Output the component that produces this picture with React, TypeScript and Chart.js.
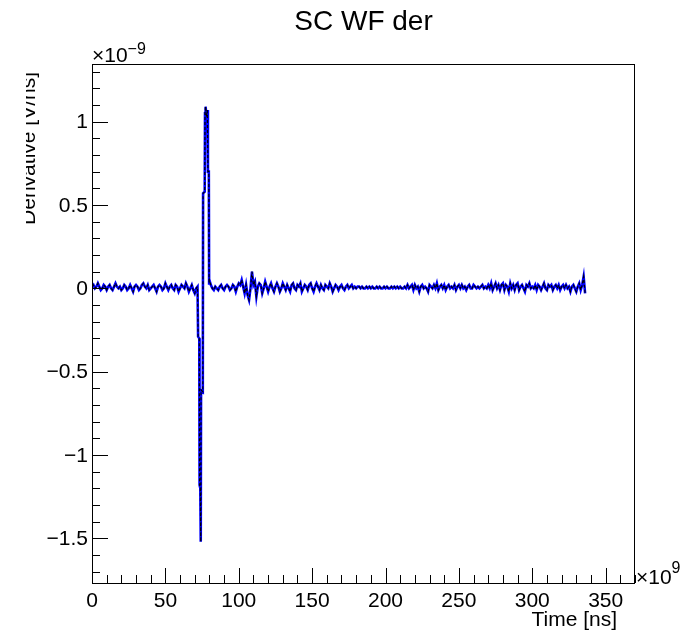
import React, { useEffect, useRef } from "react";
import { Chart, registerables } from "chart.js";

Chart.register(...registerables);

// ---------- text ----------
const TITLE = "SC WF der";
const X_TITLE = "Time [ns]";
const Y_TITLE = "Derivative [V/ns]";
const X_MULT_BASE = "×10";
const X_MULT_EXP = "9";
const Y_MULT_BASE = "×10";
const Y_MULT_EXP = "−9";

// ---------- axes ----------
const X_MIN = 0;
const X_MAX = 370;
const Y_MIN = -1.774;
const Y_MAX = 1.346;
const xMajorTicks = [0, 50, 100, 150, 200, 250, 300, 350];
const xTickLabels = ["0", "50", "100", "150", "200", "250", "300", "350"];
const yMajorTicks = [-1.5, -1, -0.5, 0, 0.5, 1];
const yTickLabels = ["−1.5", "−1", "−0.5", "0", "0.5", "1"];
const X_MINOR_STEP = 10;
const Y_MINOR_STEP = 0.1;

// ---------- data (derivative, units of 1e-9) ----------
// baseline noise before the pulse, 1 ns sampling from t = 0
const preStart = 0;
const preStep = 1;
const preValues = [
  0.01, 0.02, 0.0, 0.01, 0.03, 0.01, -0.01, 0.0, 0.02, 0.01,
  -0.01, 0.01, 0.02, 0.0, -0.01, 0.01, 0.03, 0.01, 0.0, 0.01,
  -0.01, 0.0, 0.02, 0.01, -0.01, 0.0, 0.02, 0.0, -0.02, 0.01,
  0.02, 0.01, -0.01, 0.0, 0.02, 0.03, 0.01, 0.0, 0.02, -0.01,
  0.0, 0.01, 0.02, 0.0, -0.02, 0.01, 0.02, 0.01, -0.01, 0.0,
  0.03, 0.01, -0.01, 0.01, 0.02, 0.0, -0.01, 0.02, 0.01, -0.02,
  0.0, 0.02, 0.01, 0.0, 0.03, 0.01, -0.02, 0.0, 0.02, -0.01,
  -0.03, 0.0,
];

// the pulse
const pulseTimes = [71.9, 72.3, 73.1, 73.3, 73.8, 74.1, 74.3, 75.5, 75.7, 76.8, 77.0, 77.4, 78.0, 78.6, 79.0, 79.6, 79.8];
const pulseValues = [0.01, -0.29, -0.3, -1.18, -1.2, -1.52, -0.61, -0.62, 0.57, 0.58, 1.05, 1.09, 1.03, 1.07, 0.7, 0.7, 0.03];

// baseline noise after the pulse, 1 ns sampling from t = 80
const postStart = 80;
const postStep = 1;
const postValues = [
  0.05, 0.02, 0.0, -0.01, 0.01, 0.0, -0.01, 0.01, 0.02, 0.0,
  -0.01, 0.01, 0.02, 0.01, -0.01, 0.0, 0.02, 0.01, -0.02, 0.01,
  0.03, 0.02, 0.05, 0.01, -0.03, 0.02, -0.04, -0.07, 0.0, 0.1,
  0.02, 0.04, -0.05, 0.01, 0.03, 0.02, -0.03, 0.0, 0.04, 0.01,
  -0.02, 0.01, 0.03, 0.0, -0.02, 0.01, 0.03, 0.01, -0.02, 0.0,
  0.03, 0.01, -0.01, 0.02, 0.0, -0.02, 0.02, 0.03, 0.0, -0.01,
  0.02, 0.01, 0.03, -0.02, 0.0, 0.02, 0.01, -0.01, 0.02, 0.03,
  0.0, -0.02, 0.01, 0.03, 0.01, -0.01, 0.02, 0.0, -0.01, 0.02,
  0.01, 0.0, 0.03, 0.01, -0.02, 0.0, 0.02, 0.01, -0.01, 0.01,
  0.02, 0.0, -0.01, 0.01, 0.02, 0.0, 0.01, 0.02, 0.0, 0.01,
  0.0, 0.01, 0.01, 0.0, 0.01, 0.0, 0.0, 0.01, 0.0, 0.01,
  0.0, 0.01, 0.0, 0.0, 0.01, 0.0, 0.01, 0.0, 0.0, 0.01,
  0.0, 0.01, 0.0, 0.0, 0.01, 0.0, 0.01, 0.0, 0.01, 0.0,
  0.01, 0.0, 0.0, 0.01, 0.0, 0.02, 0.0, 0.01, 0.02, -0.01,
  0.02, 0.0, 0.01, -0.02, 0.01, 0.02, 0.0, 0.01, 0.0, -0.02,
  0.02, 0.01, 0.0, 0.02, 0.0, 0.03, -0.01, 0.01, 0.02, 0.0,
  0.02, -0.01, 0.01, 0.02, 0.0, 0.01, 0.0, 0.02, -0.01, 0.01,
  0.02, 0.0, 0.02, 0.0, 0.01, -0.01, 0.01, 0.02, 0.0, 0.0,
  0.02, 0.01, 0.0, 0.01, 0.0, 0.01, 0.02, 0.0, 0.01, 0.0,
  0.02, 0.0, 0.03, -0.01, 0.01, 0.03, 0.0, 0.02, -0.01, 0.02,
  0.03, -0.01, 0.02, 0.01, -0.02, 0.03, 0.0, 0.02, -0.01, 0.02,
  0.03, -0.01, 0.01, 0.02, 0.0, -0.02, 0.02, 0.01, 0.03, 0.0,
  0.01, 0.0, 0.02, -0.01, 0.02, 0.01, -0.01, 0.01, 0.03, 0.0,
  -0.01, 0.02, 0.01, 0.02, -0.01, 0.01, 0.02, 0.0, 0.02, -0.01,
  0.01, 0.02, 0.0, 0.02, 0.0, 0.01, -0.02, 0.01, 0.02, 0.0,
  -0.02, 0.01, 0.03, -0.01, 0.02, 0.07, -0.03,
];

const FONT = '"Liberation Sans", Arial, Helvetica, sans-serif';

function buildPoints() {
  const pts: { x: number; y: number }[] = [];
  preValues.forEach((v, i) => pts.push({ x: preStart + i * preStep, y: v }));
  pulseValues.forEach((v, i) => pts.push({ x: pulseTimes[i], y: v }));
  postValues.forEach((v, i) => pts.push({ x: postStart + i * postStep, y: v }));
  return pts;
}

const rootAxesPlugin = {
  id: "rootAxes",
  afterDraw(chart: any) {
    const { ctx, chartArea: a } = chart;
    const xs = chart.scales.x;
    const ys = chart.scales.y;
    ctx.save();
    ctx.strokeStyle = "#000";
    ctx.fillStyle = "#000";
    ctx.lineWidth = 1;

    // frame
    ctx.strokeRect(Math.round(a.left) + 0.5, Math.round(a.top) + 0.5, Math.round(a.right - a.left) - 1, Math.round(a.bottom - a.top) - 1);

    // x ticks (inward)
    ctx.beginPath();
    const xk0 = Math.ceil(X_MIN / X_MINOR_STEP - 1e-9);
    const xk1 = Math.floor(X_MAX / X_MINOR_STEP + 1e-9);
    for (let k = xk0; k <= xk1; k++) {
      const v = k * X_MINOR_STEP;
      const major = xMajorTicks.some((m) => Math.abs(m - v) < 1e-6);
      const px = Math.round(xs.getPixelForValue(v)) + 0.5;
      const len = major ? 15 : 8;
      ctx.moveTo(px, a.bottom - 1);
      ctx.lineTo(px, a.bottom - 1 - len);
    }
    // y ticks (inward)
    const yk0 = Math.ceil(Y_MIN / Y_MINOR_STEP - 1e-9);
    const yk1 = Math.floor(Y_MAX / Y_MINOR_STEP + 1e-9);
    for (let k = yk0; k <= yk1; k++) {
      const v = k * Y_MINOR_STEP;
      const major = yMajorTicks.some((m) => Math.abs(m - v) < 1e-6);
      const py = Math.round(ys.getPixelForValue(v)) + 0.5;
      const len = major ? 16 : 8;
      ctx.moveTo(a.left, py);
      ctx.lineTo(a.left + len, py);
    }
    ctx.stroke();

    // tick labels
    ctx.font = `21px ${FONT}`;
    ctx.textAlign = "center";
    ctx.textBaseline = "alphabetic";
    xMajorTicks.forEach((v, i) => {
      ctx.fillText(xTickLabels[i], xs.getPixelForValue(v), a.bottom + 23);
    });
    ctx.textAlign = "right";
    ctx.textBaseline = "middle";
    yMajorTicks.forEach((v, i) => {
      ctx.fillText(yTickLabels[i], a.left - 4, ys.getPixelForValue(v) + 1);
    });

    // title
    ctx.font = `28px ${FONT}`;
    ctx.textAlign = "center";
    ctx.textBaseline = "alphabetic";
    ctx.fillText(TITLE, (a.left + a.right) / 2, 30);

    // x title
    ctx.font = `21px ${FONT}`;
    ctx.textAlign = "right";
    ctx.fillText(X_TITLE, 617, 626);

    // multipliers
    ctx.textAlign = "left";
    ctx.font = `21px ${FONT}`;
    ctx.fillText(Y_MULT_BASE, a.left, 62);
    let w = ctx.measureText(Y_MULT_BASE).width;
    ctx.font = `16px ${FONT}`;
    ctx.fillText(Y_MULT_EXP, a.left + w, 54);

    ctx.font = `21px ${FONT}`;
    ctx.fillText(X_MULT_BASE, a.right + 1, a.bottom);
    w = ctx.measureText(X_MULT_BASE).width;
    ctx.font = `16px ${FONT}`;
    ctx.fillText(X_MULT_EXP, a.right + 1 + w, a.bottom - 11);

    // y title (rotated, its left part cut off as in the original)
    ctx.save();
    ctx.beginPath();
    ctx.rect(26, 0, 100, chart.height);
    ctx.clip();
    ctx.translate(35, 72);
    ctx.rotate(-Math.PI / 2);
    ctx.font = `21px ${FONT}`;
    ctx.textAlign = "right";
    ctx.textBaseline = "alphabetic";
    ctx.fillText(Y_TITLE, 0, 0);
    ctx.restore();

    ctx.restore();
  },
};

export default function App() {
  const canvasRef = useRef<HTMLCanvasElement | null>(null);

  useEffect(() => {
    if (!canvasRef.current) return;
    const points = buildPoints();
    const chart = new Chart(canvasRef.current, {
      type: "line",
      data: {
        datasets: [
          {
            data: points,
            borderColor: "#000000",
            borderWidth: 1.2,
            borderDash: [3, 2],
            pointRadius: 0,
            fill: false,
            tension: 0,
            order: 0,
          },
          {
            data: points,
            borderColor: "#0000ff",
            borderWidth: 2.6,
            pointRadius: 0,
            fill: false,
            tension: 0,
            order: 1,
          },
        ],
      },
      options: {
        animation: false,
        responsive: false,
        devicePixelRatio: 1,
        parsing: false as any,
        normalized: true,
        layout: { padding: { left: 92, right: 51, top: 64, bottom: 47 } },
        plugins: {
          legend: { display: false },
          tooltip: { enabled: false },
          title: { display: false },
        },
        scales: {
          x: { type: "linear", min: X_MIN, max: X_MAX, display: false },
          y: { type: "linear", min: Y_MIN, max: Y_MAX, display: false },
        },
      },
      plugins: [rootAxesPlugin],
    });
    return () => chart.destroy();
  }, []);

  return (
    <div style={{ position: "absolute", left: 0, top: 0, width: 686, height: 631, background: "#fff" }}>
      <canvas ref={canvasRef} width={686} height={631} style={{ width: 686, height: 631, display: "block" }} />
    </div>
  );
}
